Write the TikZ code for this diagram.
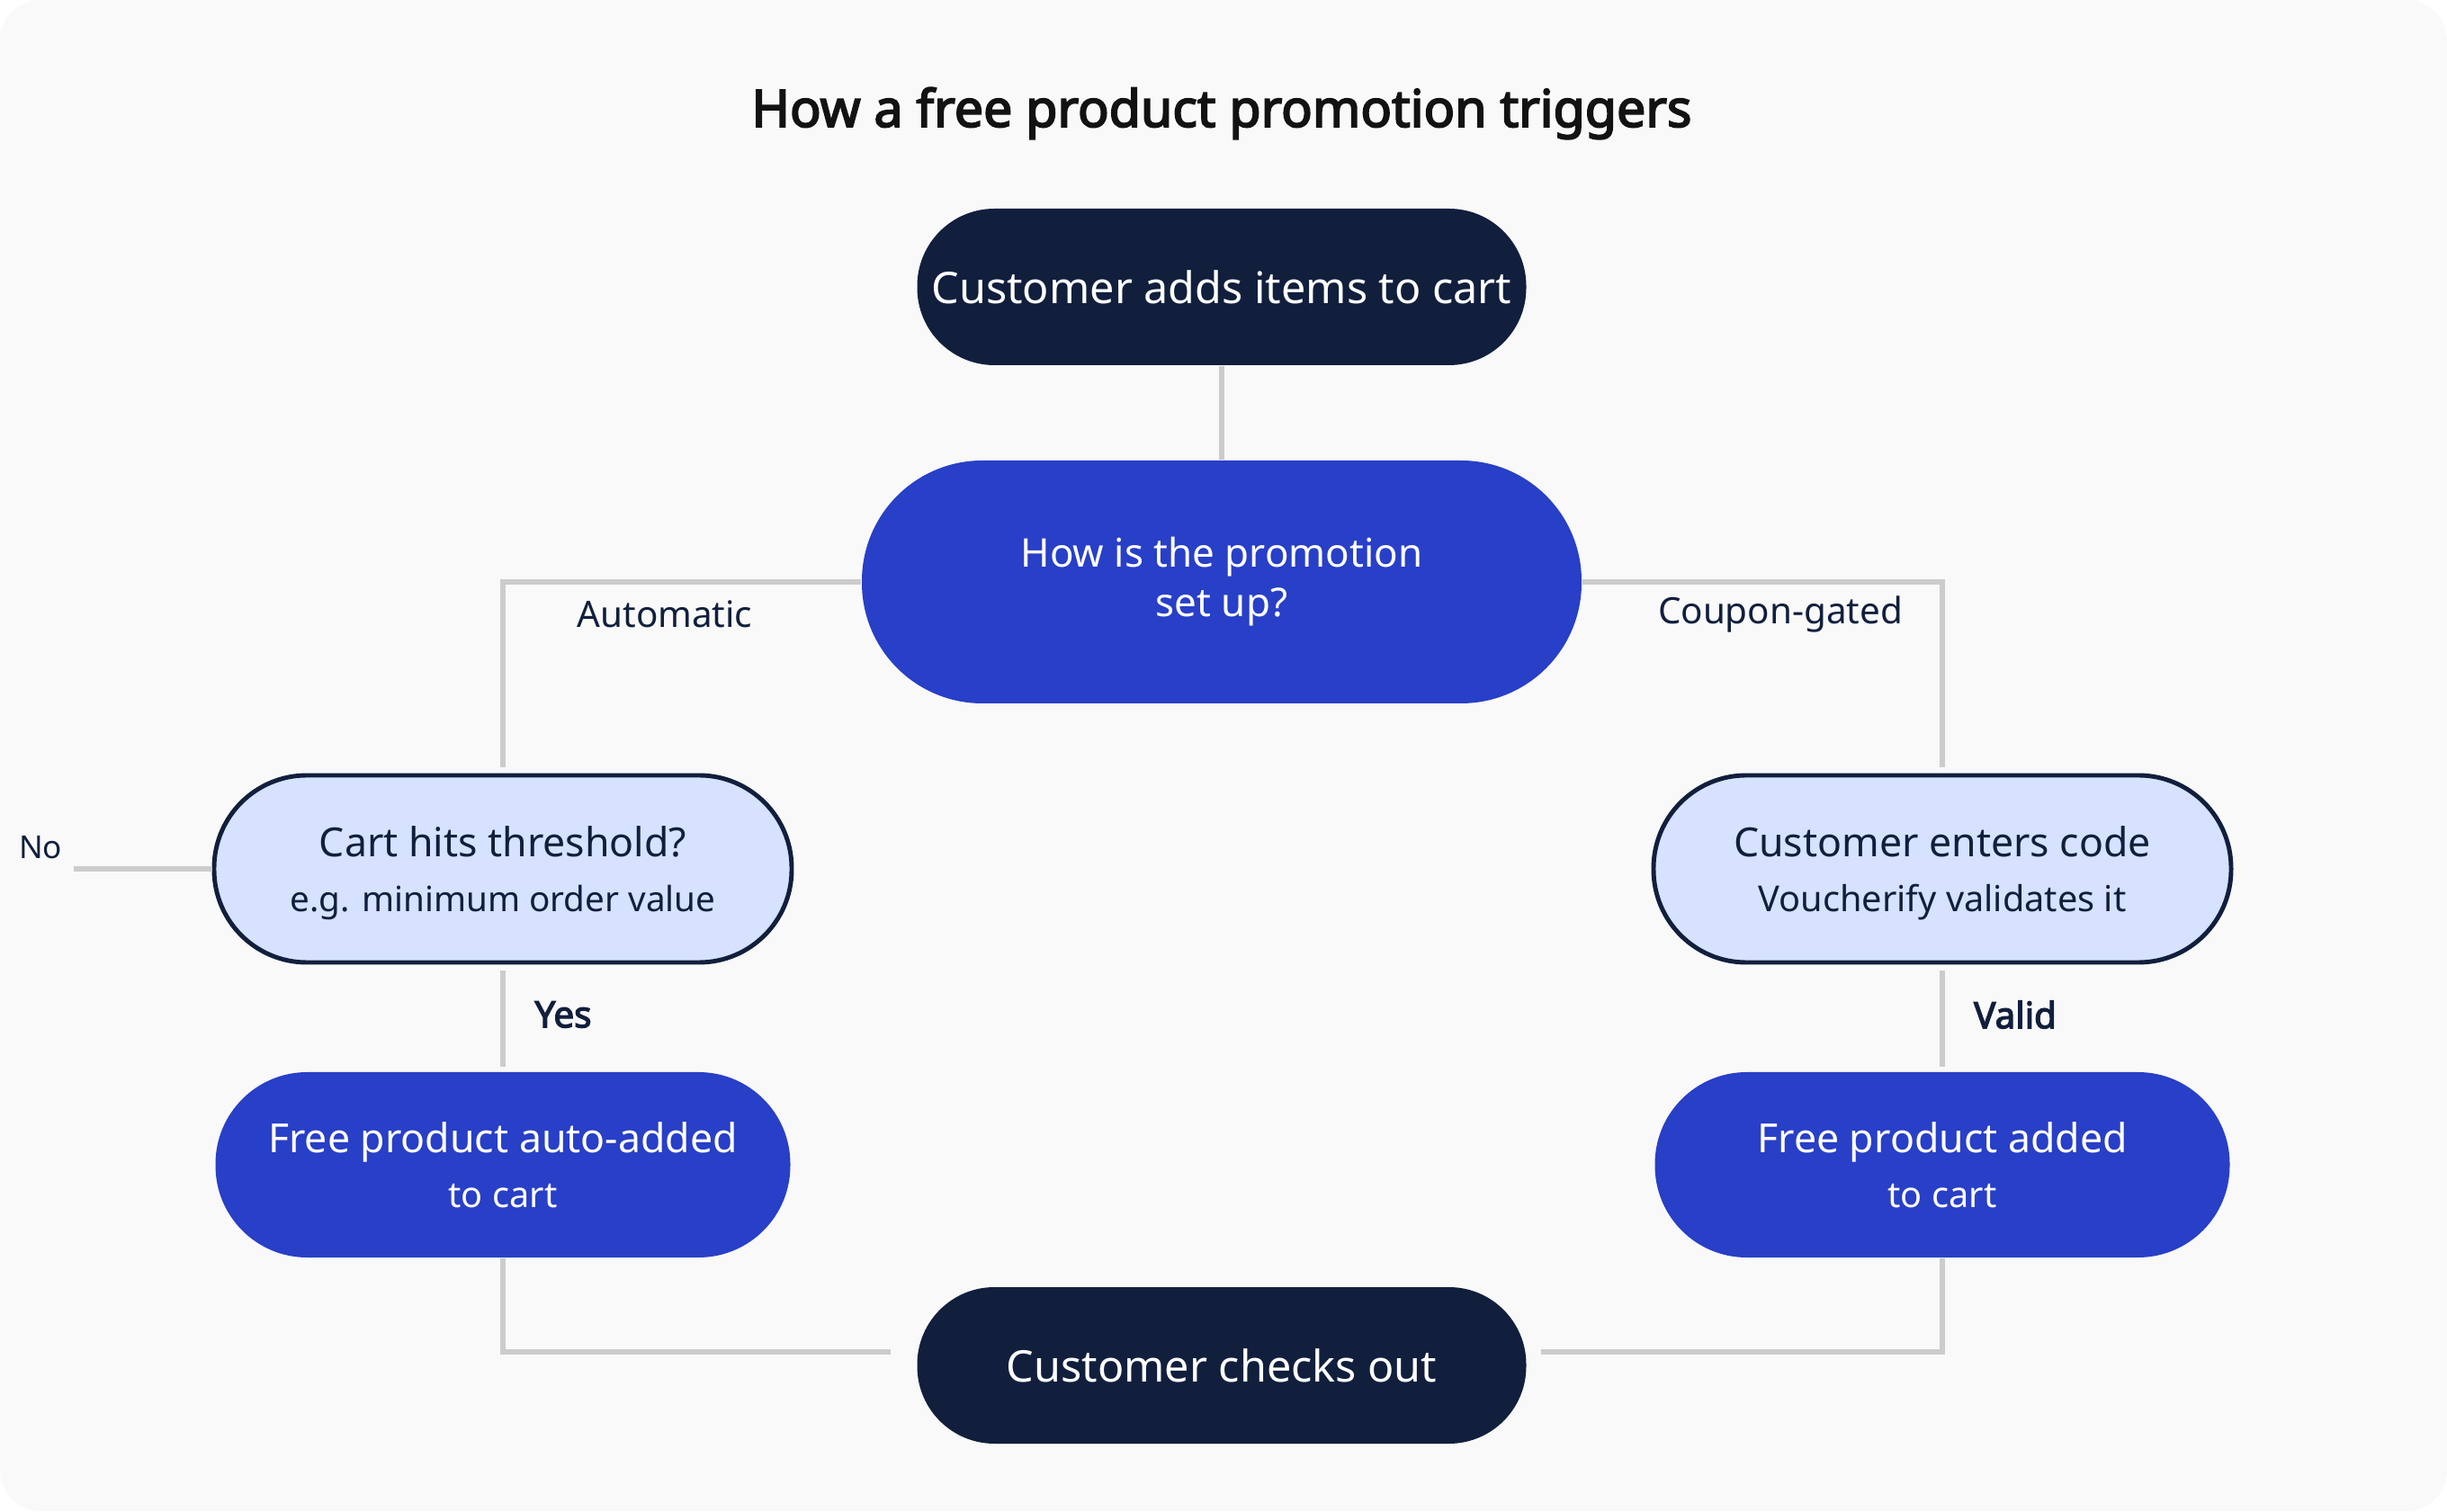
\documentclass[tikz,border=0pt]{standalone}
\usepackage{fontspec}
\setmainfont{Noto Sans}[AutoFakeBold=3.2]
\usepackage{tikz}
\usetikzlibrary{positioning}
\usepackage{xcolor}
\definecolor{navy}{RGB}{17,31,61}
\definecolor{royal}{RGB}{40,63,199}
\definecolor{pale}{RGB}{214,226,255}
\definecolor{wiregrey}{RGB}{204,204,204}
\definecolor{card}{RGB}{249,249,249}

\begin{document}
\begin{tikzpicture}[
  term/.style={rectangle,fill=navy,text=white,minimum width=6.77cm,
    minimum height=1.74cm,rounded corners=0.86cm,
    font=\fontsize{13.8}{16}\selectfont},
  ask/.style={rectangle,fill=royal,text=white,minimum width=8cm,
    minimum height=2.7cm,rounded corners=1.34cm,align=center,
    font=\fontsize{12.5}{15.6}\selectfont},
  check/.style={rectangle,fill=pale,draw=navy,line width=1.4pt,text=navy,
    minimum width=6.42cm,minimum height=2.08cm,rounded corners=1.03cm,
    align=center,text depth=-2pt,font=\fontsize{12.7}{17.6}\selectfont},
  result/.style={rectangle,fill=royal,text=white,minimum width=6.39cm,
    minimum height=2.06cm,rounded corners=1.02cm,align=center,
    text depth=-2pt,font=\fontsize{12.7}{17.6}\selectfont},
  wire/.style={draw=wiregrey,line width=1.5pt},
  lbl/.style={text=navy,font=\fontsize{11.5}{13}\selectfont}]
% Card
\useasboundingbox (0,0) rectangle (27.2,16.8);
\fill[card,rounded corners=0.45cm] (0,0) rectangle (27.2,16.8);
\node[text=black!93,font=\fontsize{16.3}{19}\selectfont\bfseries] (title)
  at (13.58,15.54) {How a free product promotion triggers};
% Flow nodes
\node[term] (add) at (13.58,13.61) {Customer adds items to cart};
\node[ask] (setup) at (13.58,10.33) {How is the promotion\\set up?};
\node[check] (thresh) at (5.59,7.14)
  {Cart hits threshold?\\{\fontsize{11}{13}\selectfont e.g. minimum order value}};
\node[check] (code) at (21.59,7.14)
  {Customer enters code\\{\fontsize{11.3}{13}\selectfont Voucherify validates it}};
\node[result] (autoadd) at (5.59,3.85)
  {Free product auto-added\\{\fontsize{11.3}{13}\selectfont to cart}};
\node[result] (added) at (21.59,3.85)
  {Free product added\\{\fontsize{11.3}{13}\selectfont to cart}};
\node[term] (checkout) at (13.58,1.62) {Customer checks out};
% Free ends
\coordinate (noEnd) at (0.82,7.14);
\coordinate (inL) at ([xshift=-0.29cm,yshift=0.15cm]checkout.west);
\coordinate (inR) at ([xshift=0.16cm,yshift=0.15cm]checkout.east);
% Wires
\draw[wire] (add.south) -- (setup.north);
\draw[wire,shorten >=2pt] (setup.west) -| (thresh.north);
\draw[wire,shorten >=2pt] (setup.east) -| (code.north);
\draw[wire] (thresh.west) -- (noEnd);
\draw[wire,shorten <=2pt,shorten >=1.5pt] (thresh.south) -- (autoadd.north);
\draw[wire,shorten <=2pt,shorten >=1.5pt] (code.south) -- (added.north);
\draw[wire] (autoadd.south) |- (inL);
\draw[wire] (added.south) |- (inR);
% Labels
\node[lbl] (automatic) at (7.39,9.97) {Automatic};
\node[lbl] (coupon) at (19.79,9.97) {Coupon-gated};
\node[lbl,font=\fontsize{10}{12}\selectfont] (no) at (0.45,7.38) {No};
\node[lbl,font=\fontsize{11.5}{13}\selectfont\bfseries] (yes) at (6.26,5.52) {Yes};
\node[lbl,font=\fontsize{11.5}{13}\selectfont\bfseries] (valid) at (22.40,5.52) {Valid};
\end{tikzpicture}
\end{document}
